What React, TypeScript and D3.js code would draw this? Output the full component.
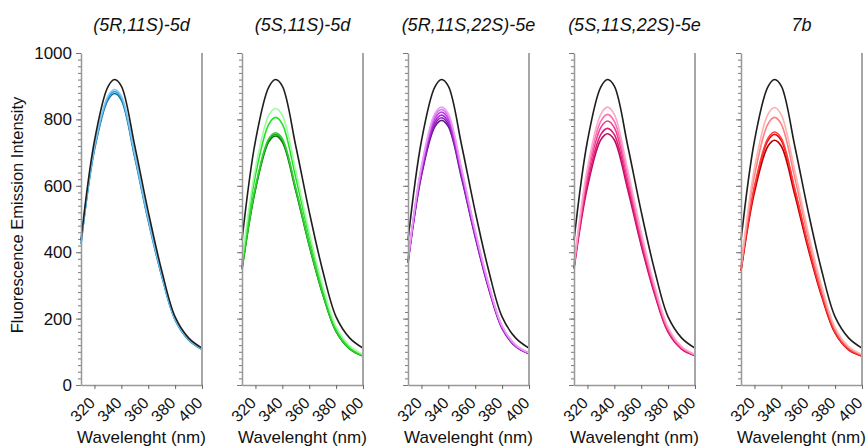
import React, { useEffect, useRef } from 'react';
import * as d3 from 'd3';

// wavelengths (nm) sampled along each emission curve
const wavelengths = [310, 320, 330, 335, 340, 350, 360, 370, 380, 390, 400];

const panelTitles = ['(5R,11S)-5d', '(5S,11S)-5d', '(5R,11S,22S)-5e', '(5S,11S,22S)-5e', '7b'];
const xTicks = [320, 340, 360, 380, 400];
const yTicks = [0, 200, 400, 600, 800, 1000];

// reference (black) spectrum in each panel
const blackCurve = [436, 735, 898, 920, 900, 720, 522, 345, 205, 142, 111];

const blueCurves = [
    [428, 717, 870, 890, 870, 695, 502, 334, 198, 138, 108],
    [426, 712, 864, 884, 864, 690, 498, 331, 197, 137, 108],
    [425, 708, 858, 878, 858, 685, 495, 329, 196, 136, 107],
];
const blueColours = ['#7cc8f5', '#2a9be0', '#1a6f8a'];

const greenCurves = [
    [372, 652, 813, 833, 812, 645, 460, 299, 175, 118, 92],
    [365, 632, 786, 806, 786, 625, 447, 291, 170, 115, 90],
    [352, 597, 743, 760, 742, 593, 425, 277, 163, 110, 88],
    [350, 592, 738, 755, 737, 589, 422, 275, 162, 110, 88],
    [348, 589, 733, 750, 732, 585, 420, 274, 161, 109, 87],
];
const greenColours = ['#9dfc9d', '#22e022', '#33cc33', '#11aa11', '#0a6a0a'];

const purpleCurves = [
    [378, 660, 818, 837, 817, 650, 465, 304, 178, 121, 97],
    [376, 655, 811, 830, 810, 645, 462, 302, 177, 120, 96],
    [374, 649, 803, 822, 802, 639, 458, 299, 175, 119, 96],
    [372, 642, 794, 813, 793, 632, 453, 296, 173, 118, 95],
    [370, 636, 786, 805, 785, 626, 449, 293, 172, 117, 94],
    [368, 630, 778, 797, 778, 620, 445, 290, 170, 116, 94],
];
const purpleColours = ['#ec9cf7', '#dc6ef2', '#c040e6', '#a82ad6', '#8a1cba', '#5e1a80'];

const pinkCurves = [
    [362, 654, 816, 837, 815, 647, 460, 299, 174, 116, 92],
    [359, 639, 795, 815, 794, 631, 449, 292, 170, 114, 91],
    [356, 624, 776, 795, 775, 616, 439, 285, 166, 112, 90],
    [353, 608, 755, 773, 754, 600, 428, 278, 162, 110, 89],
    [350, 596, 739, 757, 738, 588, 420, 273, 159, 108, 88],
];
const pinkColours = ['#ffa6cc', '#ff70b0', '#f03c8e', '#e01a78', '#b80c5e'];

const redCurves = [
    [356, 652, 815, 836, 814, 646, 459, 298, 173, 116, 92],
    [352, 630, 786, 806, 785, 624, 444, 289, 168, 113, 91],
    [347, 598, 743, 762, 743, 591, 422, 274, 160, 108, 89],
    [346, 593, 736, 755, 736, 586, 418, 272, 159, 108, 88],
    [343, 580, 719, 737, 719, 573, 410, 267, 156, 106, 87],
];
const redColours = ['#ffb0b0', '#ff8080', '#ff3a3a', '#ee0a0a', '#b80000'];

const panelCurves = [blueCurves, greenCurves, purpleCurves, pinkCurves, redCurves];
const panelColours = [blueColours, greenColours, purpleColours, pinkColours, redColours];

const panelLefts = [81, 242, 408, 574, 741];
const panelWidth = 121;
const top = 53;
const bottom = 385;
const font = 'Arial, "Liberation Sans", sans-serif';

function App() {
    const svgRef = useRef<SVGSVGElement>(null);

    useEffect(() => {
        const svg = d3.select(svgRef.current);
        svg.selectAll('*').remove();

        const y = d3.scaleLinear().domain([0, 1000]).range([bottom, top]);

        panelTitles.forEach((title, i) => {
            const left = panelLefts[i];
            const x = d3.scaleLinear().domain([310, 400]).range([left, left + panelWidth]);
            const g = svg.append('g');

            // curves: coloured first, black on top
            const line = d3.line<number>()
                .x((d, j) => x(wavelengths[j]))
                .y(d => y(d))
                .curve(d3.curveCatmullRom.alpha(0.5));

            const curves = panelCurves[i];
            curves.slice().reverse().forEach((c, k) => {
                g.append('path')
                    .attr('d', line(c))
                    .attr('fill', 'none')
                    .attr('stroke', panelColours[i][curves.length - 1 - k])
                    .attr('stroke-width', 1.6);
            });
            g.append('path')
                .attr('d', line(blackCurve))
                .attr('fill', 'none')
                .attr('stroke', '#1e1e1e')
                .attr('stroke-width', 1.6);

            // right border
            g.append('line')
                .attr('x1', left + panelWidth).attr('x2', left + panelWidth)
                .attr('y1', top).attr('y2', bottom)
                .attr('stroke', '#a6a6a6').attr('stroke-width', 2);

            // y axis, minor ticks every 20
            const yMinor = d3.axisLeft(y).tickValues(d3.range(0, 1001, 20)).tickSize(3).tickFormat(() => '');
            const gm = g.append('g').attr('transform', `translate(${left},0)`).call(yMinor);
            gm.select('.domain').remove();
            gm.selectAll('line').attr('stroke', '#555').attr('stroke-width', 0.8);

            const yAxis = d3.axisLeft(y).tickValues(yTicks).tickSize(5).tickSizeOuter(0)
                .tickFormat(i === 0 ? (d => String(d)) : () => '');
            const gy = g.append('g').attr('transform', `translate(${left},0)`).call(yAxis);
            gy.select('.domain').attr('stroke', '#999').attr('stroke-width', 1.5);
            gy.selectAll('line').attr('stroke', '#777');
            gy.selectAll('text')
                .attr('font-family', font).attr('font-size', 17).attr('fill', '#111').attr('dx', -1);

            // x axis
            const xAxis = d3.axisBottom(x).tickValues(xTicks).tickSize(4).tickSizeOuter(0);
            const gx = g.append('g').attr('transform', `translate(0,${bottom})`).call(xAxis);
            gx.select('.domain').attr('stroke', '#999').attr('stroke-width', 1.5);
            gx.selectAll('line').attr('stroke', '#666');
            gx.selectAll('text')
                .attr('font-family', font).attr('font-size', 16).attr('fill', '#111')
                .attr('text-anchor', 'end')
                .attr('dy', null).attr('y', 0)
                .attr('transform', 'translate(1,19) rotate(-45)');

            g.append('text')
                .attr('x', left + panelWidth / 2).attr('y', 443)
                .attr('text-anchor', 'middle')
                .attr('font-family', font).attr('font-size', 17).attr('fill', '#111')
                .text('Wavelenght (nm)');

            g.append('text')
                .attr('x', left + panelWidth / 2).attr('y', 31)
                .attr('text-anchor', 'middle')
                .attr('font-family', font).attr('font-size', 18).attr('font-style', 'italic')
                .attr('fill', '#111')
                .text(title);
        });

        svg.append('text')
            .attr('transform', `translate(23,${(top + bottom) / 2 - 4}) rotate(-90)`)
            .attr('text-anchor', 'middle')
            .attr('font-family', font).attr('font-size', 16.5).attr('fill', '#111')
            .text('Fluorescence Emission Intensity');
    }, []);

    return (
        <svg width={866} height={448} ref={svgRef}
            style={{ position: 'absolute', left: 0, top: 0, background: '#fff' }}></svg>
    );
}

export default App;
